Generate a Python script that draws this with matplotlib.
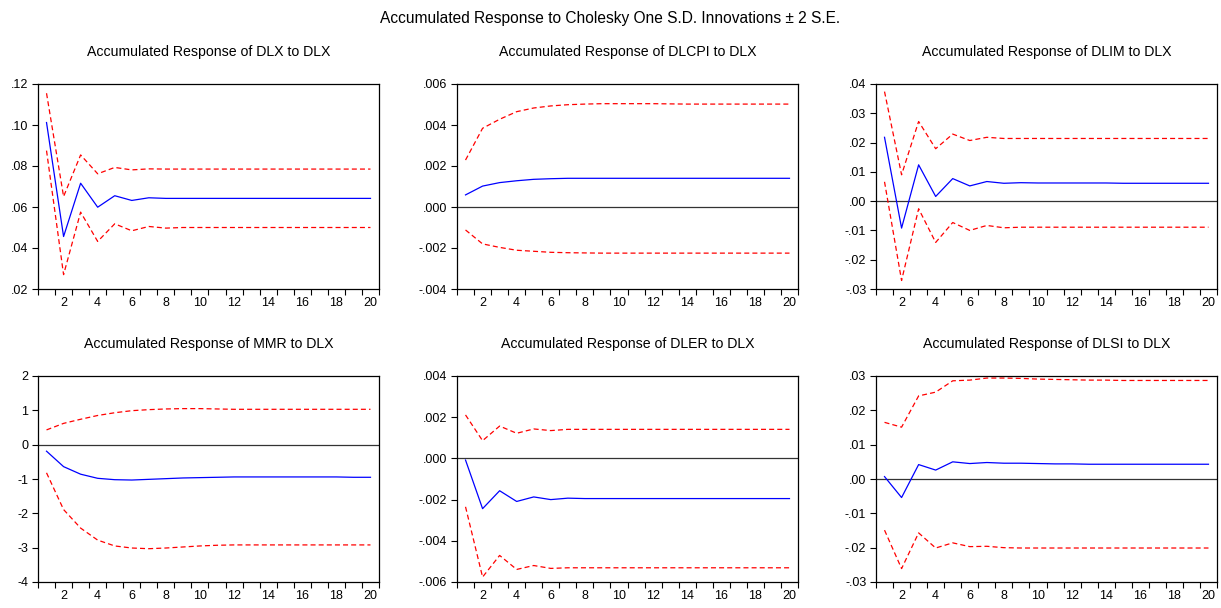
# accumulated impulse responses to a DLX shock, EViews-style 2x3 panel
import numpy as np
import matplotlib.pyplot as plt
from matplotlib.ticker import FuncFormatter, FixedLocator

plt.rcParams['font.family'] = ['Liberation Sans', 'DejaVu Sans']

periods = np.arange(1, 21)

# response, upper band, lower band
dlx_resp = [0.1012, 0.0456, 0.0716, 0.0599, 0.0655, 0.0632, 0.0645, 0.0642, 0.0642, 0.0642,
            0.0642, 0.0642, 0.0642, 0.0642, 0.0642, 0.0642, 0.0642, 0.0642, 0.0642, 0.0642]
dlx_up = [0.1155, 0.0651, 0.0854, 0.0762, 0.0793, 0.0781, 0.0786, 0.0785, 0.0785, 0.0785,
          0.0785, 0.0785, 0.0785, 0.0785, 0.0785, 0.0785, 0.0785, 0.0785, 0.0785, 0.0785]
dlx_lo = [0.0875, 0.0270, 0.0575, 0.0432, 0.0518, 0.0484, 0.0505, 0.0497, 0.0500, 0.0500,
          0.0500, 0.0500, 0.0500, 0.0500, 0.0500, 0.0500, 0.0500, 0.0500, 0.0500, 0.0500]

dlcpi_resp = [0.00059, 0.00102, 0.00119, 0.00128, 0.00135, 0.00138, 0.0014, 0.0014, 0.0014, 0.0014,
              0.0014, 0.0014, 0.0014, 0.0014, 0.0014, 0.0014, 0.0014, 0.0014, 0.0014, 0.0014]
dlcpi_up = [0.00229, 0.00384, 0.00428, 0.00465, 0.00483, 0.00493, 0.00499, 0.00502, 0.00504, 0.00504,
            0.00504, 0.00504, 0.00503, 0.00502, 0.00502, 0.00502, 0.00502, 0.00502, 0.00502, 0.00502]
dlcpi_lo = [-0.00112, -0.0018, -0.00197, -0.00211, -0.00216, -0.00221, -0.00223, -0.00224, -0.00225, -0.00225,
            -0.00225, -0.00225, -0.00225, -0.00225, -0.00225, -0.00225, -0.00225, -0.00225, -0.00225, -0.00225]

dlim_resp = [0.0218, -0.0092, 0.0124, 0.0016, 0.0077, 0.0052, 0.0067, 0.0061, 0.0063, 0.0062,
             0.0062, 0.0062, 0.0062, 0.0062, 0.0061, 0.0061, 0.0061, 0.0061, 0.0061, 0.0061]
dlim_up = [0.0374, 0.0090, 0.0272, 0.0179, 0.0229, 0.0207, 0.0218, 0.0214, 0.0214, 0.0214,
           0.0214, 0.0214, 0.0214, 0.0214, 0.0214, 0.0214, 0.0214, 0.0214, 0.0214, 0.0214]
dlim_lo = [0.0066, -0.0271, -0.0026, -0.0141, -0.0073, -0.0100, -0.0083, -0.0091, -0.0089, -0.0089,
           -0.0089, -0.0089, -0.0089, -0.0089, -0.0089, -0.0089, -0.0089, -0.0089, -0.0089, -0.0089]

mmr_resp = [-0.19, -0.64, -0.86, -0.98, -1.02, -1.03, -1.01, -0.99, -0.97, -0.96,
            -0.95, -0.94, -0.94, -0.94, -0.94, -0.94, -0.94, -0.94, -0.95, -0.95]
mmr_up = [0.43, 0.62, 0.74, 0.85, 0.93, 0.99, 1.02, 1.04, 1.05, 1.05,
          1.04, 1.03, 1.03, 1.03, 1.03, 1.03, 1.03, 1.03, 1.03, 1.03]
mmr_lo = [-0.82, -1.89, -2.43, -2.78, -2.95, -3.01, -3.03, -3.01, -2.98, -2.95,
          -2.93, -2.92, -2.92, -2.92, -2.92, -2.92, -2.92, -2.92, -2.92, -2.92]

dler_resp = [-0.00008, -0.00244, -0.00157, -0.00209, -0.00187, -0.0020, -0.00193, -0.00195, -0.00195, -0.00195,
             -0.00195, -0.00195, -0.00195, -0.00195, -0.00195, -0.00195, -0.00195, -0.00195, -0.00195, -0.00195]
dler_up = [0.00211, 0.00086, 0.00157, 0.00122, 0.00143, 0.00135, 0.00141, 0.00141, 0.00141, 0.00141,
           0.00141, 0.00141, 0.00141, 0.00141, 0.00141, 0.00141, 0.00141, 0.00141, 0.00141, 0.00141]
dler_lo = [-0.00235, -0.00576, -0.00471, -0.00539, -0.0052, -0.00534, -0.00531, -0.00531, -0.00531, -0.00531,
           -0.00531, -0.00531, -0.00531, -0.00531, -0.00531, -0.00531, -0.00531, -0.00531, -0.00531, -0.00531]

dlsi_resp = [0.0007, -0.0054, 0.0042, 0.0026, 0.0050, 0.0045, 0.0048, 0.0046, 0.0046, 0.0045,
             0.0044, 0.0044, 0.0043, 0.0043, 0.0043, 0.0043, 0.0043, 0.0043, 0.0043, 0.0043]
dlsi_up = [0.0165, 0.0151, 0.0242, 0.0253, 0.0286, 0.0288, 0.0294, 0.0294, 0.0293, 0.0291,
           0.0290, 0.0289, 0.0288, 0.0288, 0.0287, 0.0287, 0.0287, 0.0287, 0.0287, 0.0287]
dlsi_lo = [-0.0149, -0.0261, -0.0157, -0.0201, -0.0186, -0.0197, -0.0196, -0.0200, -0.0201, -0.0201,
           -0.0201, -0.0201, -0.0201, -0.0201, -0.0201, -0.0201, -0.0201, -0.0201, -0.0201, -0.0201]

titles = ['Accumulated Response of DLX to DLX', 'Accumulated Response of DLCPI to DLX',
          'Accumulated Response of DLIM to DLX', 'Accumulated Response of MMR to DLX',
          'Accumulated Response of DLER to DLX', 'Accumulated Response of DLSI to DLX']
series = [(dlx_resp, dlx_up, dlx_lo), (dlcpi_resp, dlcpi_up, dlcpi_lo), (dlim_resp, dlim_up, dlim_lo),
          (mmr_resp, mmr_up, mmr_lo), (dler_resp, dler_up, dler_lo), (dlsi_resp, dlsi_up, dlsi_lo)]
y_ticks = [[0.02, 0.04, 0.06, 0.08, 0.10, 0.12],
           [-0.004, -0.002, 0.0, 0.002, 0.004, 0.006],
           [-0.03, -0.02, -0.01, 0.0, 0.01, 0.02, 0.03, 0.04],
           [-4, -3, -2, -1, 0, 1, 2],
           [-0.006, -0.004, -0.002, 0.0, 0.002, 0.004],
           [-0.03, -0.02, -0.01, 0.0, 0.01, 0.02, 0.03]]
y_decimals = [2, 3, 2, 0, 3, 2]
zero_line = [False, True, True, True, True, True]


def eviews_fmt(decimals):
    def f(v, pos):
        if decimals == 0:
            return '%d' % round(v)
        s = ('%.' + str(decimals) + 'f') % v
        return s.replace('0.', '.', 1)
    return FuncFormatter(f)


W, H = 1221, 608
fig = plt.figure(figsize=(W / 100, H / 100), dpi=100)

# axes boxes in pixels: left, right, top, bottom
cols = [(38, 379), (457, 798), (876, 1217)]
rows = [(84, 289), (376, 582)]

for i in range(6):
    r, c = divmod(i, 3)
    l, rt = cols[c]
    t, b = rows[r]
    ax = fig.add_axes([l / W, 1 - b / H, (rt - l) / W, (b - t) / H])
    resp, up, lo = series[i]
    if zero_line[i]:
        ax.axhline(0, color='#333333', lw=0.9, zorder=1)
    ax.plot(periods, up, color='#ff0000', lw=0.9, ls=(0, (4, 2.5)))
    ax.plot(periods, lo, color='#ff0000', lw=0.9, ls=(0, (4, 2.5)))
    ax.plot(periods, resp, color='#0000ff', lw=0.9)
    ax.set_xlim(0.5, 20.5)
    ax.set_ylim(y_ticks[i][0], y_ticks[i][-1])
    ax.set_yticks(y_ticks[i])
    ax.yaxis.set_major_formatter(eviews_fmt(y_decimals[i]))
    # ticks between periods, labels on even periods
    ax.xaxis.set_major_locator(FixedLocator(np.arange(0.5, 21, 1.0)))
    ax.xaxis.set_major_formatter(FuncFormatter(lambda v, p: ''))
    ax.xaxis.set_minor_locator(FixedLocator(np.arange(2, 21, 2)))
    ax.xaxis.set_minor_formatter(FuncFormatter(lambda v, p: '%d' % v))
    ax.tick_params(axis='x', which='major', direction='out', length=4, width=0.8)
    ax.tick_params(axis='x', which='minor', length=0, pad=6, labelsize=9)
    ax.tick_params(axis='y', direction='out', length=4, width=0.8, labelsize=9, pad=3)
    for sp in ax.spines.values():
        sp.set_linewidth(0.9)
    fig.text((l + rt) / 2 / W, 1 - (t - 32) / H, titles[i], ha='center', va='center', fontsize=10.2)

fig.text(0.5, 1 - 18 / H, 'Accumulated Response to Cholesky One S.D. Innovations \u00b1 2 S.E.',
         ha='center', va='center', fontsize=11.2)

fig.savefig('out.png', dpi=100)
